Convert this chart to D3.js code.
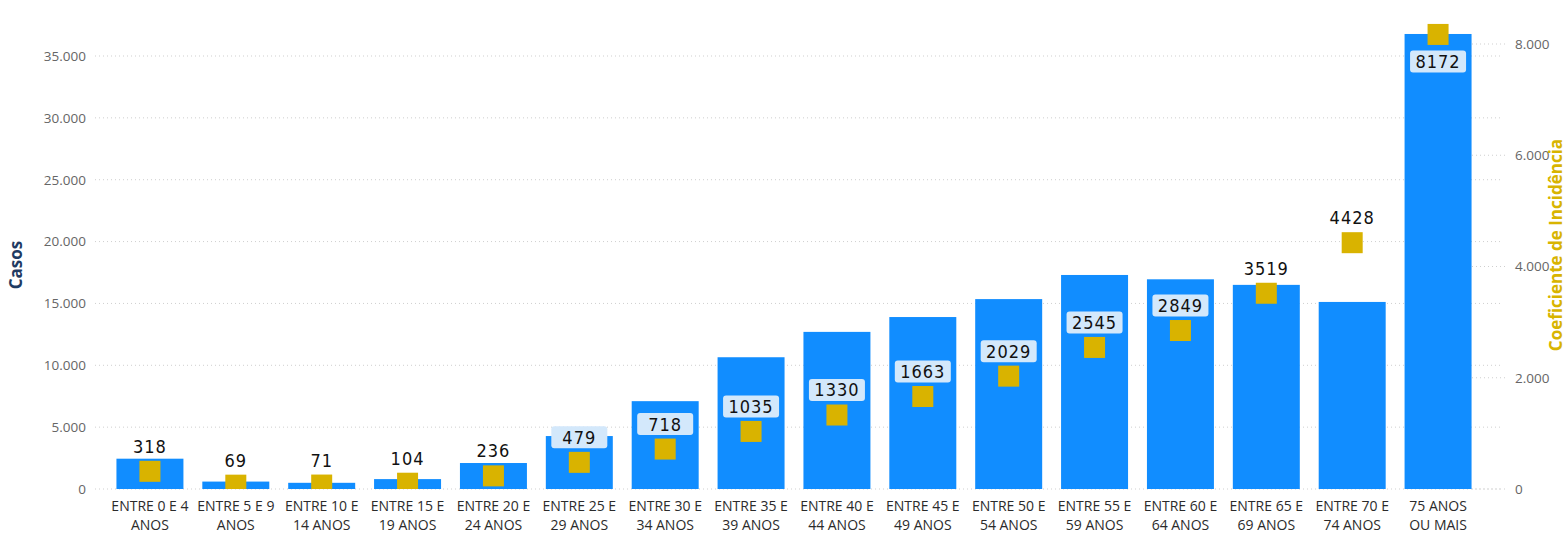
<!DOCTYPE html>
<html>
<head>
<meta charset="utf-8">
<script src="https://cdn.jsdelivr.net/npm/d3@7"></script>
<style>
  body { margin: 0; background: #fff; }
</style>
</head>
<body>
<div id="quadros"></div>
<script>
var width = 1567;
var height = 533;

var faixas = ['ENTRE 0 E 4|ANOS', 'ENTRE 5 E 9|ANOS', 'ENTRE 10 E|14 ANOS', 'ENTRE 15 E|19 ANOS',
  'ENTRE 20 E|24 ANOS', 'ENTRE 25 E|29 ANOS', 'ENTRE 30 E|34 ANOS', 'ENTRE 35 E|39 ANOS',
  'ENTRE 40 E|44 ANOS', 'ENTRE 45 E|49 ANOS', 'ENTRE 50 E|54 ANOS', 'ENTRE 55 E|59 ANOS',
  'ENTRE 60 E|64 ANOS', 'ENTRE 65 E|69 ANOS', 'ENTRE 70 E|74 ANOS', '75 ANOS|OU MAIS'];
var casos = [2450, 600, 500, 800, 2100, 4280, 7100, 10650, 12700, 13900, 15350, 17300, 16950, 16500, 15120, 36780];
var coeficiente = [318, 69, 71, 104, 236, 479, 718, 1035, 1330, 1663, 2029, 2545, 2849, 3519, 4428, 8172];
var casosTicks = [0, 5000, 10000, 15000, 20000, 25000, 30000, 35000];
var coefTicks = [0, 2000, 4000, 6000, 8000];

var fmt = d3.formatLocale({decimal: ',', thousands: '.', grouping: [3], currency: ['R$', '']}).format(',');

var svg = d3.select('#quadros').append('svg')
  .attr('width', width)
  .attr('height', height)
  .style('font-family', "'Open Sans', 'Noto Sans', sans-serif");

var x = d3.scaleBand().domain(faixas).range([107, 1481]).paddingInner(0.22).paddingOuter(0.11);
var yL = d3.scaleLinear().domain([0, 35000]).range([489, 56]);
var yR = d3.scaleLinear().domain([0, 8000]).range([489, 44]);

svg.append('clipPath').attr('id', 'plot')
  .append('rect').attr('x', 95).attr('y', 0).attr('width', 1410).attr('height', 489);

// grid (left axis)
svg.append('g').selectAll('line').data(casosTicks).enter().append('line')
  .attr('x1', 95).attr('x2', 1500)
  .attr('y1', function (d) { return yL(d); }).attr('y2', function (d) { return yL(d); })
  .attr('stroke', '#cfcfcf').attr('stroke-width', 1).attr('stroke-dasharray', '1,3');

// short dotted marks for right axis
svg.append('g').selectAll('line').data(coefTicks).enter().append('line')
  .attr('x1', 1472).attr('x2', 1508)
  .attr('y1', function (d) { return yR(d); }).attr('y2', function (d) { return yR(d); })
  .attr('stroke', '#cfcfcf').attr('stroke-width', 1).attr('stroke-dasharray', '1,3');

var axL = svg.append('g').attr('transform', 'translate(90,0)')
  .call(d3.axisLeft(yL).tickValues(casosTicks).tickFormat(fmt).tickSize(0).tickPadding(4));
axL.select('.domain').remove();
axL.selectAll('text').style('font-size', '13.5px').style('fill', '#666').style('font-family', "'Open Sans', sans-serif");

var axR = svg.append('g').attr('transform', 'translate(1511,0)')
  .call(d3.axisRight(yR).tickValues(coefTicks).tickFormat(fmt).tickSize(0).tickPadding(4));
axR.select('.domain').remove();
axR.selectAll('text').style('font-size', '13.5px').style('fill', '#666').style('font-family', "'Open Sans', sans-serif");

// axis titles
svg.append('text')
  .attr('transform', 'translate(22,265) rotate(-90)')
  .attr('text-anchor', 'middle')
  .style('font-size', '17px').style('font-weight', 'bold').style('fill', '#1f3b63')
  .text('Casos');
svg.append('text')
  .attr('transform', 'translate(1562,245) rotate(-90)')
  .attr('text-anchor', 'middle')
  .style('font-size', '17px').style('font-weight', 'bold').style('fill', '#d8b400')
  .text('Coeficiente de Incidência');

// bars
svg.append('g').selectAll('rect').data(faixas).enter().append('rect')
  .attr('x', function (d) { return x(d); })
  .attr('y', function (d, i) { return yL(casos[i]); })
  .attr('width', x.bandwidth())
  .attr('height', function (d, i) { return yL(0) - yL(casos[i]); })
  .attr('fill', '#118dff');

// x labels
var xl = svg.append('g').selectAll('text').data(faixas).enter().append('text')
  .attr('x', function (d) { return x(d) + x.bandwidth() / 2; })
  .attr('y', 511)
  .attr('text-anchor', 'middle')
  .style('font-size', '14px').style('fill', '#2b2b2b');
xl.append('tspan').attr('x', function (d) { return x(d) + x.bandwidth() / 2; })
  .text(function (d) { return d.split('|')[0]; });
xl.append('tspan').attr('x', function (d) { return x(d) + x.bandwidth() / 2; }).attr('dy', 19)
  .text(function (d) { return d.split('|')[1]; });

// squares (clipped at the baseline)
var sq = 21;
svg.append('g').attr('clip-path', 'url(#plot)')
  .selectAll('rect').data(faixas).enter().append('rect')
  .attr('x', function (d) { return x(d) + x.bandwidth() / 2 - sq / 2; })
  .attr('y', function (d, i) { return yR(coeficiente[i]) - sq / 2; })
  .attr('width', sq).attr('height', sq)
  .attr('fill', '#d9b300');

// data labels
faixas.forEach(function (d, i) {
  var cx = x(d) + x.bandwidth() / 2;
  var cy = yR(coeficiente[i]) - 25;
  if (cy < 20) cy = yR(coeficiente[i]) + 27;
  var inside = cy > yL(casos[i]);
  if (inside) {
    svg.append('rect')
      .attr('x', cx - 28).attr('y', cy - 11)
      .attr('width', 56).attr('height', 22)
      .attr('rx', 3)
      .attr('fill', '#d3e8fb');
  }
  svg.append('text')
    .attr('x', cx).attr('y', cy)
    .attr('dy', '0.36em')
    .attr('text-anchor', 'middle')
    .style('font-size', '18px').style('letter-spacing', '1px')
    .style('font-family', "'DejaVu Sans Condensed', 'DejaVu Sans', sans-serif")
    .style('fill', '#111')
    .text(coeficiente[i]);
});
</script>
</body>
</html>
